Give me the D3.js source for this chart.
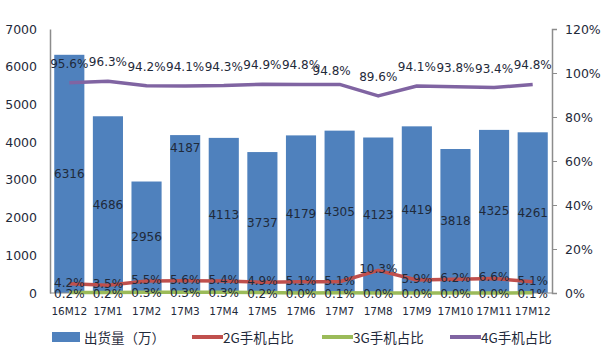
<!DOCTYPE html>
<html><head><meta charset="utf-8">
<script src="https://cdn.jsdelivr.net/npm/d3@7"></script>
<style>body{margin:0;background:#fff}svg{display:block}</style>
</head><body>
<script>
const categories = ["16M12","17M1","17M2","17M3","17M4","17M5","17M6","17M7","17M8","17M9","17M10","17M11","17M12"];
const shipments = [6316,4686,2956,4187,4113,3737,4179,4305,4123,4419,3818,4325,4261];
const share2G = [4.2,3.5,5.5,5.6,5.4,4.9,5.1,5.1,10.3,5.9,6.2,6.6,5.1];
const share3G = [0.2,0.2,0.3,0.3,0.3,0.2,0.0,0.1,0.0,0.0,0.0,0.0,0.1];
const share4G = [95.6,96.3,94.2,94.1,94.3,94.9,94.8,94.8,89.6,94.1,93.8,93.4,94.8];
const leftTicks = [0,1000,2000,3000,4000,5000,6000,7000];
const rightTicks = [0,20,40,60,80,100,120];
const legendNames = ["出货量（万）","2G手机占比","3G手机占比","4G手机占比"];

const W=611,H=364;
const m={l:50,r:59,t:29,b:71};
const svg=d3.select("body").append("svg").attr("width",W).attr("height",H);
const x=d3.scaleBand().domain(categories).range([m.l,W-m.r]).paddingInner(0.22).paddingOuter(0.11);
const yL=d3.scaleLinear().domain([0,7000]).range([H-m.b,m.t]);
const yR=d3.scaleLinear().domain([0,120]).range([H-m.b,m.t]);
const font="DejaVu Sans, Verdana, sans-serif";
const txt="#1f2a3a";
const cx=d=>x(d)+x.bandwidth()/2;

// bars
svg.append("g").selectAll("rect").data(shipments).join("rect")
 .attr("x",(d,i)=>x(categories[i])).attr("width",x.bandwidth())
 .attr("y",d=>yL(d)).attr("height",d=>yL(0)-yL(d)).attr("fill","#4F81BD");

// axes
const axL=svg.append("g").attr("transform",`translate(${m.l},0)`)
 .call(d3.axisLeft(yL).tickValues(leftTicks).tickSize(0).tickPadding(13).tickFormat(d3.format("d")));
const axR=svg.append("g").attr("transform",`translate(${W-m.r},0)`)
 .call(d3.axisRight(yR).tickValues(rightTicks).tickSize(5).tickPadding(8).tickFormat(d=>d+"%"));
[axL,axR].forEach(a=>{a.select(".domain").attr("stroke","#8c8c8c").attr("stroke-width",1.5);
 a.selectAll("line").attr("stroke","#8c8c8c");
 a.selectAll("text").attr("font-family",font).attr("font-size",12.5).attr("fill",txt);});
svg.append("line").attr("x1",m.l).attr("x2",W-m.r).attr("y1",yL(0)).attr("y2",yL(0)).attr("stroke","#8c8c8c");

const axB=svg.append("g").attr("transform",`translate(0,${H-m.b})`)
 .call(d3.axisBottom(x).tickSize(0).tickPadding(10));
axB.select(".domain").remove();
axB.selectAll("text").attr("font-family",font).attr("font-size",10.5).attr("fill",txt).attr("dy","1.1em");

// lines
const series=[{v:share2G,c:"#C0504D"},{v:share3G,c:"#9BBB59"},{v:share4G,c:"#8064A2"}];
const line=d3.line().x((d,i)=>cx(categories[i])).y(d=>yR(d));
series.forEach(s=>svg.append("path").datum(s.v).attr("d",line).attr("fill","none")
 .attr("stroke",s.c).attr("stroke-width",3.5).attr("stroke-linejoin","round"));

// labels
const lab=(data,fx,fy,fmt)=>svg.append("g").selectAll("text").data(data).join("text")
 .attr("x",fx).attr("y",fy).attr("text-anchor","middle").attr("dominant-baseline","central")
 .attr("font-family",font).attr("font-size",12).attr("fill",txt).text(fmt);
lab(shipments,(d,i)=>cx(categories[i]),(d,i)=>i===3?yL(d)+13:(yL(d)+yL(0))/2,d=>d);
lab(share2G,(d,i)=>cx(categories[i]),d=>yR(d)-1,d=>d.toFixed(1)+"%");
lab(share3G,(d,i)=>cx(categories[i]),d=>yR(d)+1,d=>d.toFixed(1)+"%");
lab(share4G,(d,i)=>cx(categories[i])-(i===7?8:0),(d,i)=>yR(d)-(i===7?13:19),d=>d.toFixed(1)+"%");

// legend
const lx=[52,192,322,450];
const lg=svg.append("g");
legendNames.forEach((n,i)=>{
 if(i===0) lg.append("rect").attr("x",lx[i]).attr("y",332).attr("width",28).attr("height",10).attr("fill","#4F81BD");
 else lg.append("line").attr("x1",lx[i]).attr("x2",lx[i]+31).attr("y1",337).attr("y2",337).attr("stroke",series[i-1].c).attr("stroke-width",4);
 lg.append("text").attr("x",lx[i]+(i===0?32:31)).attr("y",337).attr("dominant-baseline","central")
  .attr("font-family","Noto Sans CJK SC, sans-serif").attr("font-size",13.5).attr("fill",txt).text(n);
});
</script>
</body></html>
